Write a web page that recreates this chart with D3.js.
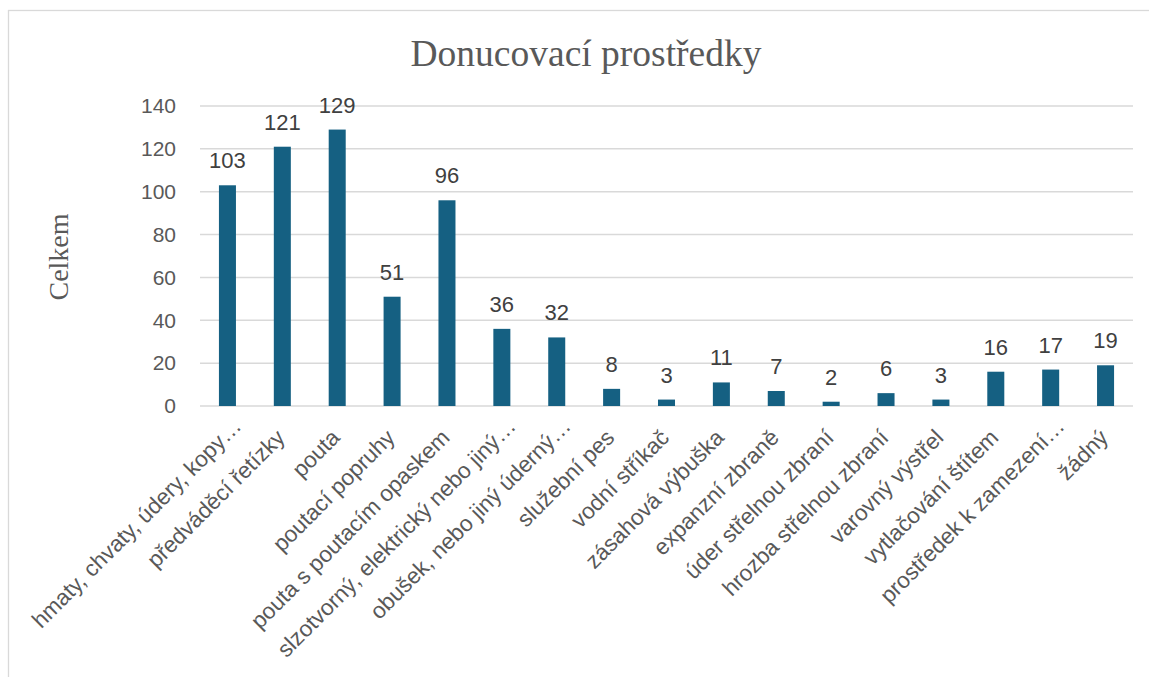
<!DOCTYPE html>
<html>
<head>
<meta charset="utf-8">
<script src="https://cdn.jsdelivr.net/npm/d3@7"></script>
<style>
  html, body { margin: 0; padding: 0; background: #fff; }
  svg { display: block; }
</style>
</head>
<body>
<svg id="chart" width="1149" height="677"></svg>
<script>
const categories = [
  "hmaty, chvaty, údery, kopy…",
  "předváděcí řetízky",
  "pouta",
  "poutací popruhy",
  "pouta s poutacím opaskem",
  "slzotvorný, elektrický nebo jiný…",
  "obušek, nebo jiný úderný…",
  "služební pes",
  "vodní stříkač",
  "zásahová výbuška",
  "expanzní zbraně",
  "úder střelnou zbraní",
  "hrozba střelnou zbraní",
  "varovný výstřel",
  "vytlačování štítem",
  "prostředek k zamezení…",
  "žádný"
];
const values = [103, 121, 129, 51, 96, 36, 32, 8, 3, 11, 7, 2, 6, 3, 16, 17, 19];
const yTicks = [0, 20, 40, 60, 80, 100, 120, 140];
const titleText = "Donucovací prostředky";
const yAxisTitle = "Celkem";

const svg = d3.select("#chart");
const sans = "'Liberation Sans', Arial, sans-serif";
const serif = "'Liberation Serif', 'Times New Roman', serif";

// chart frame
svg.append("rect")
  .attr("x", 8.5).attr("y", 10.5)
  .attr("width", 1160).attr("height", 700)
  .attr("fill", "#fff").attr("stroke", "#d9d9d9").attr("stroke-width", 1.3);

const plot = { left: 200, right: 1133, top: 106, bottom: 406 };

const x = d3.scaleBand().domain(categories).range([plot.left, plot.right]).paddingInner(0.69).paddingOuter(0.345);
const y = d3.scaleLinear().domain([0, 140]).range([plot.bottom, plot.top]);

// gridlines
svg.append("g").selectAll("line").data(yTicks).join("line")
  .attr("x1", plot.left).attr("x2", plot.right)
  .attr("y1", d => y(d)).attr("y2", d => y(d))
  .attr("stroke", "#d9d9d9").attr("stroke-width", 1.5);

// y tick labels
const yAxis = d3.axisLeft(y).tickValues(yTicks).tickSize(0).tickPadding(0);
const gy = svg.append("g").attr("transform", `translate(176,0)`).call(yAxis);
gy.select(".domain").remove();
gy.selectAll("text").attr("font-family", sans).attr("font-size", 21).attr("fill", "#595959");

// bars
svg.append("g").selectAll("rect").data(values).join("rect")
  .attr("x", (d, i) => x(categories[i]))
  .attr("width", x.bandwidth())
  .attr("y", d => y(d))
  .attr("height", d => y(0) - y(d))
  .attr("fill", "#156082");

// data labels
svg.append("g").selectAll("text").data(values).join("text")
  .attr("x", (d, i) => x(categories[i]) + x.bandwidth() / 2)
  .attr("y", d => y(d) - 17)
  .attr("text-anchor", "middle")
  .attr("font-family", sans).attr("font-size", 22).attr("fill", "#404040")
  .text(d => d);

// x axis labels
const xAxis = d3.axisBottom(x).tickSize(0).tickPadding(0);
const gx = svg.append("g").attr("transform", `translate(0,${plot.bottom})`).call(xAxis);
gx.select(".domain").remove();
gx.selectAll(".tick text")
  .attr("font-family", sans).attr("font-size", 22.5).attr("fill", "#595959")
  .attr("text-anchor", "end")
  .attr("x", d => d.endsWith("…") ? 16 : 0)
  .attr("y", 0).attr("dy", 0)
  .attr("transform", "translate(4,33) rotate(-45)");

// title
svg.append("text")
  .attr("x", 586).attr("y", 66)
  .attr("text-anchor", "middle")
  .attr("font-family", serif).attr("font-size", 37.5).attr("fill", "#595959")
  .text(titleText);

// y axis title
svg.append("text")
  .attr("transform", `translate(68,257) rotate(-90)`)
  .attr("text-anchor", "middle")
  .attr("font-family", serif).attr("font-size", 28).attr("fill", "#595959")
  .text(yAxisTitle);
</script>
</body>
</html>
